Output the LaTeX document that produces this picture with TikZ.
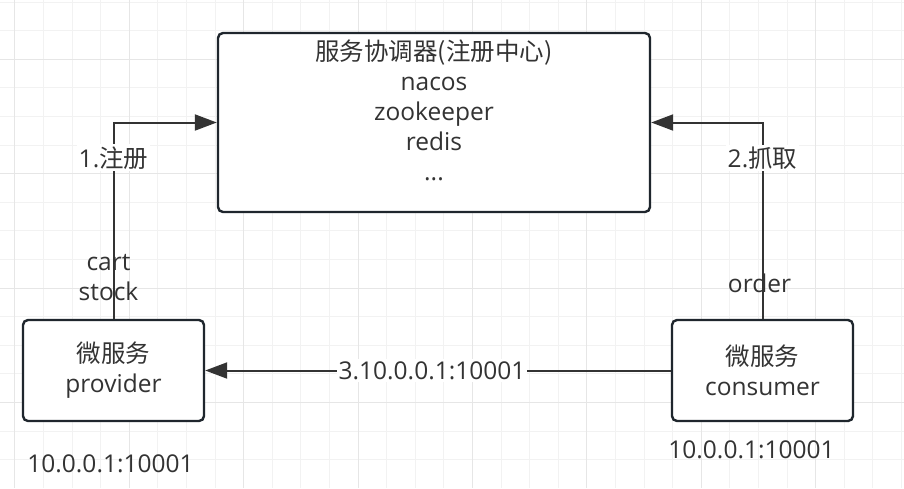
\documentclass[tikz,border=0pt]{standalone}
\usepackage{fontspec}
\setmainfont{Open Sans}
\newfontfamily\cjk{Noto Sans CJK SC}
\usepackage{tikz}
\usetikzlibrary{arrows.meta,positioning}

\definecolor{ink}{HTML}{333333}
\definecolor{edge}{HTML}{1F262D}
\definecolor{minorgrid}{HTML}{F2F2F2}
\definecolor{majorgrid}{HTML}{E6E6E6}

\tikzset{
	box/.style={draw=edge, line width=2.4pt, rounded corners=5pt, fill=white},
	svc/.style={box, minimum width=181pt, minimum height=101pt, align=center},
	lbl/.style={text=ink, align=center, inner sep=2pt},
	tag/.style={lbl, fill=white},
	link/.style={draw=ink, line width=2pt, -{Triangle[length=22pt,width=16pt]}},
}

\begin{document}
\begin{tikzpicture}[x=1pt, y=-1pt, font=\fontsize{24.5}{30}\selectfont, text=ink]
		\useasboundingbox (0,0) rectangle (904,488);
		\fill[white] (0,0) rectangle (904,488);
		\foreach \k in {0,...,31}
			\draw[minorgrid, line width=1pt] (14.9+28.6*\k,0) -- (14.9+28.6*\k,488);
		\foreach \k in {0,...,16}
			\draw[minorgrid, line width=1pt] (0,2+28.6*\k) -- (904,2+28.6*\k);
		\foreach \k in {0,4,...,28}
			\draw[majorgrid, line width=1pt] (14.9+28.6*\k,0) -- (14.9+28.6*\k,488);
		\foreach \k in {2,6,10,14}
			\draw[majorgrid, line width=1pt] (0,2+28.6*\k) -- (904,2+28.6*\k);

		\node[box, minimum width=432pt, minimum height=179pt] (reg) at (434,122.5) {};
		\node[lbl] (regtxt) at (434,110) {{\cjk 服务协调器(注册中心)}\\nacos\\zookeeper\\redis\\...};

		\node[svc] (prov) at (113.5,370.5) {{\cjk 微服务}\\provider};
		\node[svc] (cons) at (762.5,370.5) {{\cjk 微服务}\\consumer};

		\node[lbl, below=30pt of prov, xshift=-3pt] (provip) {10.0.0.1:10001};
		\node[lbl, below=16pt of cons, xshift=-11pt] (consip) {10.0.0.1:10001};

		\draw[link] (prov.north) |- (reg.west)
			node[lbl, pos=0.106, xshift=-5pt] {cart\\stock}
			node[tag, pos=0.41] {1.{\cjk 注册}};
		\draw[link] (cons.north) |- (reg.east)
			node[lbl, pos=0.09, xshift=-3pt] {order}
			node[tag, pos=0.41] {2.{\cjk 抓取}};
		\draw[link] (cons.west) -- (prov.east)
			node[tag, pos=0.5, xshift=-6pt] {3.10.0.0.1:10001};
\end{tikzpicture}
\end{document}
